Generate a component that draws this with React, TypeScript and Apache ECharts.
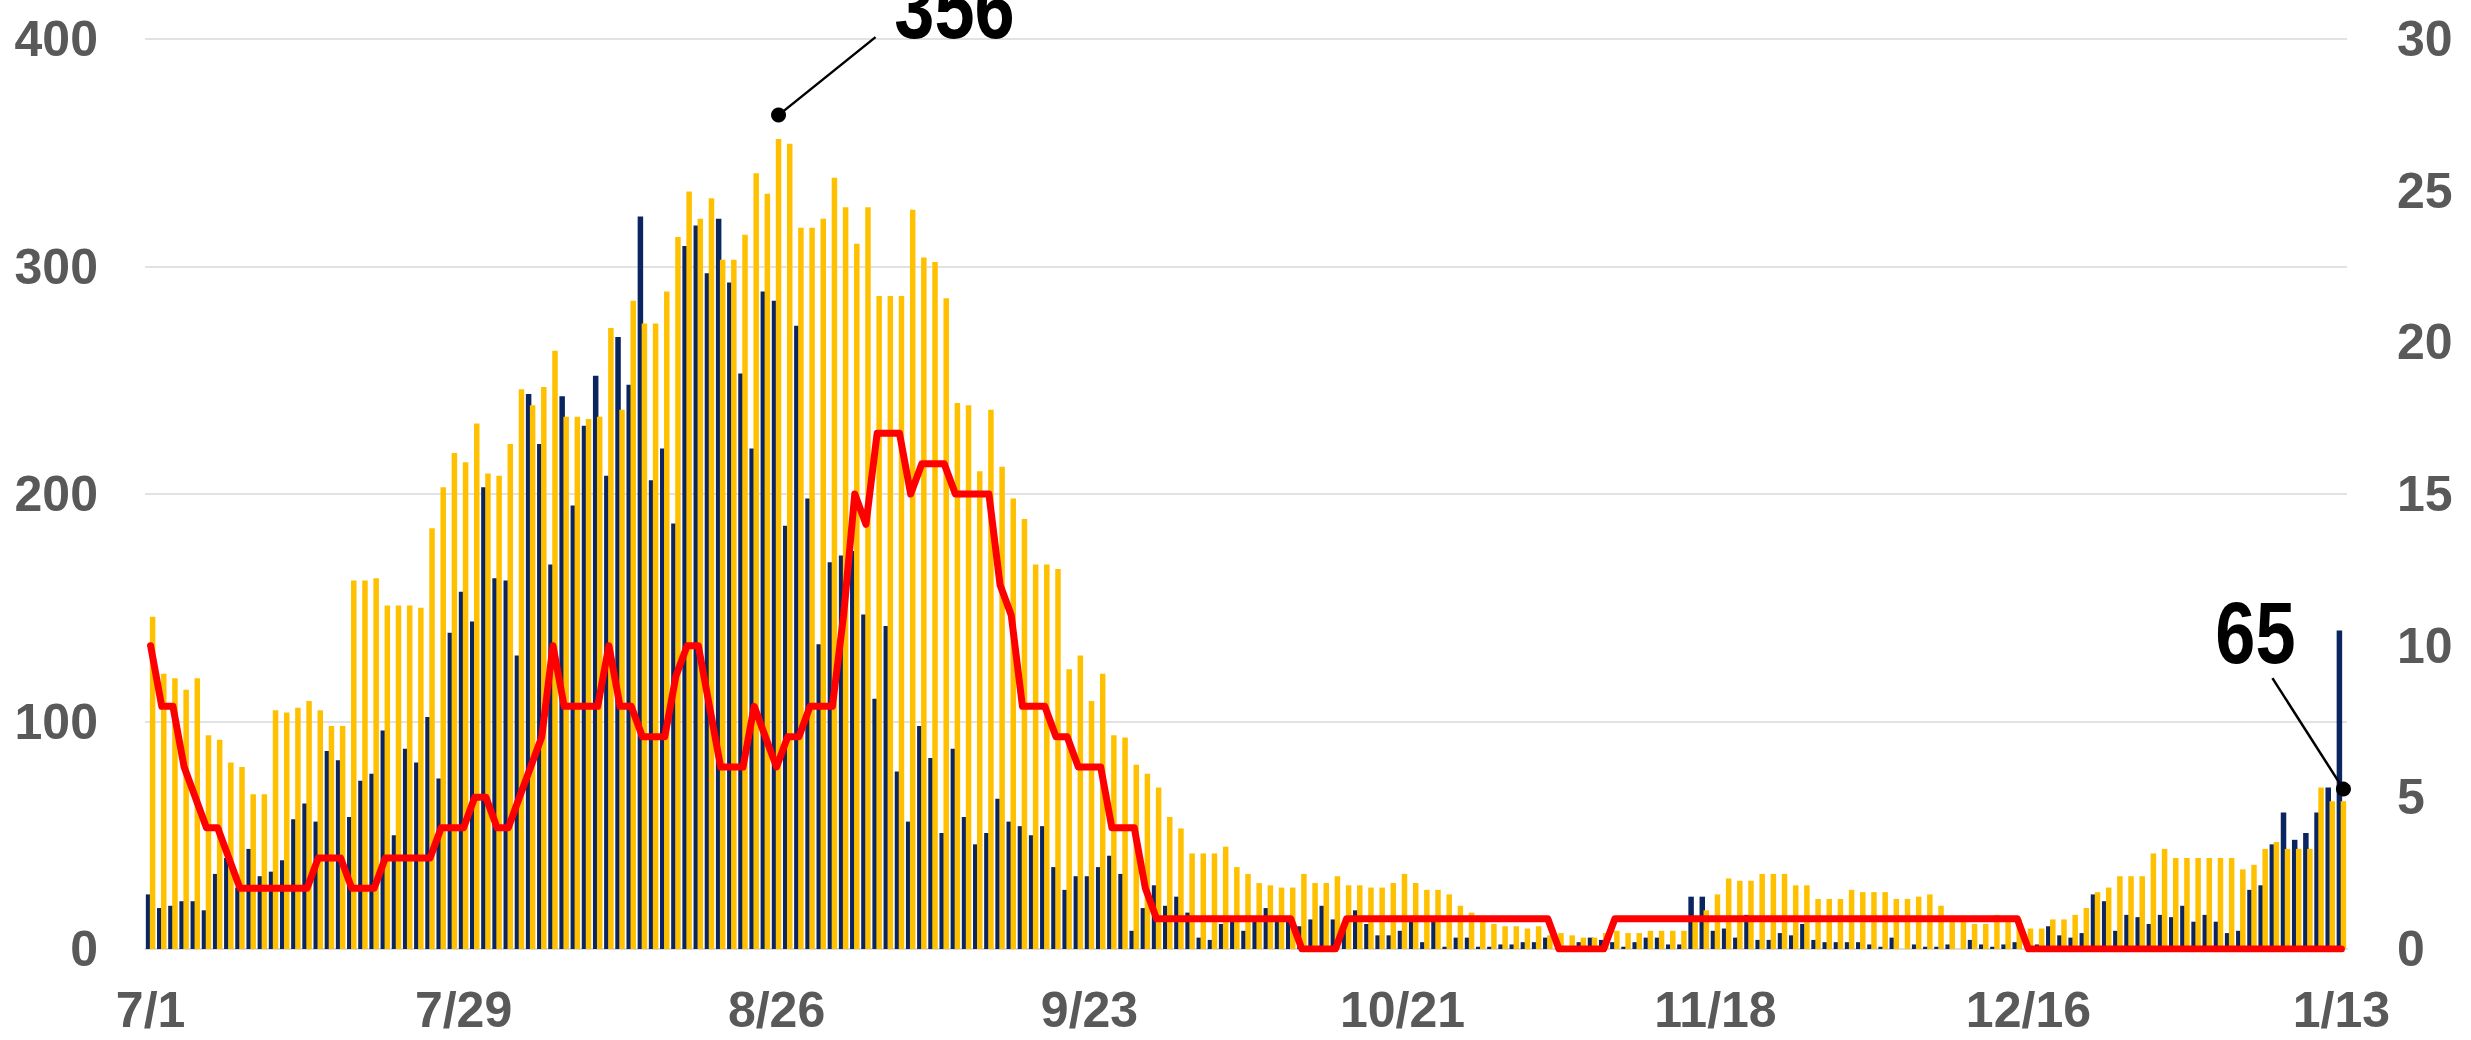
import React, { useEffect, useRef } from "react";
import * as echarts from "echarts";

// Daily values, 7/1 .. 1/13 (197 days)
const yellowValues = [
  146, 121, 119, 114, 119, 94, 92, 82, 80, 68, 68, 105, 104, 106, 109, 105, 98, 98, 162, 162,
  163, 151, 151, 151, 150, 185, 203, 218, 214, 231, 209, 208, 222, 246, 239, 247, 263, 234, 234, 233,
  234, 273, 237, 285, 275, 275, 289, 313, 333, 321, 330, 303, 303, 314, 341, 332, 356, 354, 317, 317,
  321, 339, 326, 310, 326, 287, 287, 287, 325, 304, 302, 286, 240, 239, 210, 237, 212, 198, 189, 169,
  169, 167, 123, 129, 109, 121, 94, 93, 81, 77, 71, 58, 53, 42, 42, 42, 45, 36, 33, 29,
  28, 27, 27, 33, 29, 29, 32, 28, 28, 27, 27, 29, 33, 29, 26, 26, 24, 19, 16, 12,
  11, 10, 10, 9, 10, 6, 7, 6, 5, 5, 7, 8, 7, 7, 8, 8, 8, 8, 12, 17,
  24, 31, 30, 30, 33, 33, 33, 28, 28, 22, 22, 22, 26, 25, 25, 25, 22, 22, 23, 24,
  19, 12, 12, 11, 11, 15, 12, 13, 9, 9, 13, 13, 15, 18, 25, 27, 32, 32, 32, 42,
  44, 40, 40, 40, 40, 40, 40, 35, 37, 44, 47, 44, 44, 44, 71, 65, 65,
];

const navyValues = [
  24, 18, 19, 21, 21, 17, 33, 40, 27, 44, 32, 34, 39, 57, 64, 56, 87, 83, 58, 74,
  77, 96, 50, 88, 82, 102, 75, 139, 157, 144, 203, 163, 162, 129, 244, 222, 169, 243, 195, 230,
  252, 208, 269, 248, 322, 206, 220, 187, 309, 318, 297, 321, 293, 253, 220, 289, 285, 186, 274, 198,
  134, 170, 173, 175, 147, 110, 142, 78, 56, 98, 84, 51, 88, 58, 46, 51, 66, 56, 54, 50,
  54, 36, 26, 32, 32, 36, 41, 33, 8, 18, 28, 19, 23, 16, 5, 4, 11, 12, 8, 12,
  18, 12, 12, 10, 13, 19, 13, 10, 17, 11, 6, 6, 8, 12, 3, 12, 1, 5, 5, 1,
  1, 2, 2, 3, 3, 5, 0, 0, 3, 5, 4, 3, 1, 3, 5, 5, 2, 2, 23, 23,
  8, 9, 5, 15, 4, 4, 7, 6, 11, 4, 3, 3, 3, 3, 2, 1, 5, 0, 2, 1,
  1, 2, 0, 4, 2, 1, 2, 3, 0, 2, 10, 6, 5, 7, 24, 21, 8, 15, 14, 11,
  15, 14, 19, 12, 15, 12, 7, 8, 26, 28, 46, 60, 48, 51, 60, 71, 140,
];

const redValues = [
  10, 8, 8, 6, 5, 4, 4, 3, 2, 2, 2, 2, 2, 2, 2, 3, 3, 3, 2, 2,
  2, 3, 3, 3, 3, 3, 4, 4, 4, 5, 5, 4, 4, 5, 6, 7, 10, 8, 8, 8,
  8, 10, 8, 8, 7, 7, 7, 9, 10, 10, 8, 6, 6, 6, 8, 7, 6, 7, 7, 8,
  8, 8, 11, 15, 14, 17, 17, 17, 15, 16, 16, 16, 15, 15, 15, 15, 12, 11, 8, 8,
  8, 7, 7, 6, 6, 6, 4, 4, 4, 2, 1, 1, 1, 1, 1, 1, 1, 1, 1, 1,
  1, 1, 1, 0, 0, 0, 0, 1, 1, 1, 1, 1, 1, 1, 1, 1, 1, 1, 1, 1,
  1, 1, 1, 1, 1, 1, 0, 0, 0, 0, 0, 1, 1, 1, 1, 1, 1, 1, 1, 1,
  1, 1, 1, 1, 1, 1, 1, 1, 1, 1, 1, 1, 1, 1, 1, 1, 1, 1, 1, 1,
  1, 1, 1, 1, 1, 1, 1, 1, 0, 0, 0, 0, 0, 0, 0, 0, 0, 0, 0, 0,
  0, 0, 0, 0, 0, 0, 0, 0, 0, 0, 0, 0, 0, 0, 0, 0, 0,
];

const startMonth = 7;
const startDay = 1;
const dayCount = yellowValues.length;
const labelEvery = 28;

const leftAxis = { min: 0, max: 400, interval: 100 };
const rightAxis = { min: 0, max: 30, interval: 5 };

function buildDates(): string[] {
  const out: string[] = [];
  const d = new Date(Date.UTC(2020, startMonth - 1, startDay));
  for (let i = 0; i < dayCount; i++) {
    out.push(`${d.getUTCMonth() + 1}/${d.getUTCDate()}`);
    d.setUTCDate(d.getUTCDate() + 1);
  }
  return out;
}
const categories = buildDates();

const GRAY = "#595959";
const FONT = "'Liberation Sans', Arial, sans-serif";

export default function App() {
  const ref = useRef<HTMLDivElement>(null);
  useEffect(() => {
    if (!ref.current) return;
    const chart = echarts.init(ref.current, null, { renderer: "svg" });
    const option: any = {
      animation: false,
      backgroundColor: "#ffffff",
      grid: { left: 145, right: 124, top: 39, bottom: 91, containLabel: false },
      xAxis: {
        type: "category",
        data: categories,
        axisTick: { show: false },
        axisLine: { show: true, lineStyle: { color: "#d9d9d9", width: 1.5 } },
        axisLabel: {
          interval: labelEvery - 1,
          color: GRAY,
          fontSize: 50,
          fontWeight: "bold",
          fontFamily: FONT,
          margin: 36,
        },
      },
      yAxis: [
        {
          type: "value",
          min: leftAxis.min,
          max: leftAxis.max,
          interval: leftAxis.interval,
          axisLine: { show: false },
          axisTick: { show: false },
          splitLine: { show: true, lineStyle: { color: "#d9d9d9", width: 1.5 } },
          axisLabel: { color: GRAY, fontSize: 50, fontWeight: "bold", fontFamily: FONT, margin: 47 },
        },
        {
          type: "value",
          min: rightAxis.min,
          max: rightAxis.max,
          interval: rightAxis.interval,
          axisLine: { show: false },
          axisTick: { show: false },
          splitLine: { show: false },
          axisLabel: { color: GRAY, fontSize: 50, fontWeight: "bold", fontFamily: FONT, margin: 50 },
        },
      ],
      series: [
        {
          type: "bar",
          data: navyValues,
          barWidth: 5.5,
          barGap: "-27%",
          itemStyle: { color: "#0b2560" },
          z: 2,
        },
        {
          type: "bar",
          data: yellowValues,
          barWidth: 5.5,
          itemStyle: { color: "#FFC000" },
          z: 3,
        },
        {
          type: "line",
          yAxisIndex: 1,
          data: redValues,
          symbol: "none",
          smooth: false,
          lineStyle: { color: "#FF0000", width: 7, join: "round", cap: "round" },
          z: 5,
        },
      ],
    };
    chart.setOption(option);

    const peakIdx = yellowValues.indexOf(Math.max(...yellowValues));
    const lastIdx = yellowValues.length - 1;
    const pPeak = chart.convertToPixel({ xAxisIndex: 0, yAxisIndex: 0 }, [peakIdx, yellowValues[peakIdx]]) as number[];
    const pLast = chart.convertToPixel({ xAxisIndex: 0, yAxisIndex: 0 }, [lastIdx, yellowValues[lastIdx]]) as number[];

    const d1 = [pPeak[0] + 2, pPeak[1] - 24];
    const d2 = [pLast[0] + 2, pLast[1] - 12];
    const labelFont = { fontSize: 88, fontWeight: "bold", fontFamily: FONT, fill: "#000" };

    chart.setOption({
      graphic: [
        { type: "line", shape: { x1: d1[0], y1: d1[1], x2: d1[0] + 97, y2: d1[1] - 78 }, style: { stroke: "#000", lineWidth: 2.5 }, z: 100 },
        { type: "circle", shape: { cx: d1[0], cy: d1[1], r: 7.5 }, style: { fill: "#000" }, z: 101 },
        {
          type: "text", x: d1[0] + 176, y: d1[1] - 108, scaleX: 0.82, z: 102,
          style: { text: String(yellowValues[peakIdx]), textAlign: "center", textVerticalAlign: "middle", ...labelFont },
        },
        { type: "line", shape: { x1: d2[0], y1: d2[1], x2: d2[0] - 71, y2: d2[1] - 111 }, style: { stroke: "#000", lineWidth: 2.5 }, z: 100 },
        { type: "circle", shape: { cx: d2[0], cy: d2[1], r: 7.5 }, style: { fill: "#000" }, z: 101 },
        {
          type: "text", x: d2[0] - 88, y: d2[1] - 157, scaleX: 0.82, z: 102,
          style: { text: String(yellowValues[lastIdx]), textAlign: "center", textVerticalAlign: "middle", ...labelFont },
        },
      ],
    });

    return () => chart.dispose();
  }, []);

  return (
    <div
      ref={ref}
      style={{ position: "fixed", left: 0, top: 0, width: 2471, height: 1040, background: "#fff" }}
    />
  );
}
